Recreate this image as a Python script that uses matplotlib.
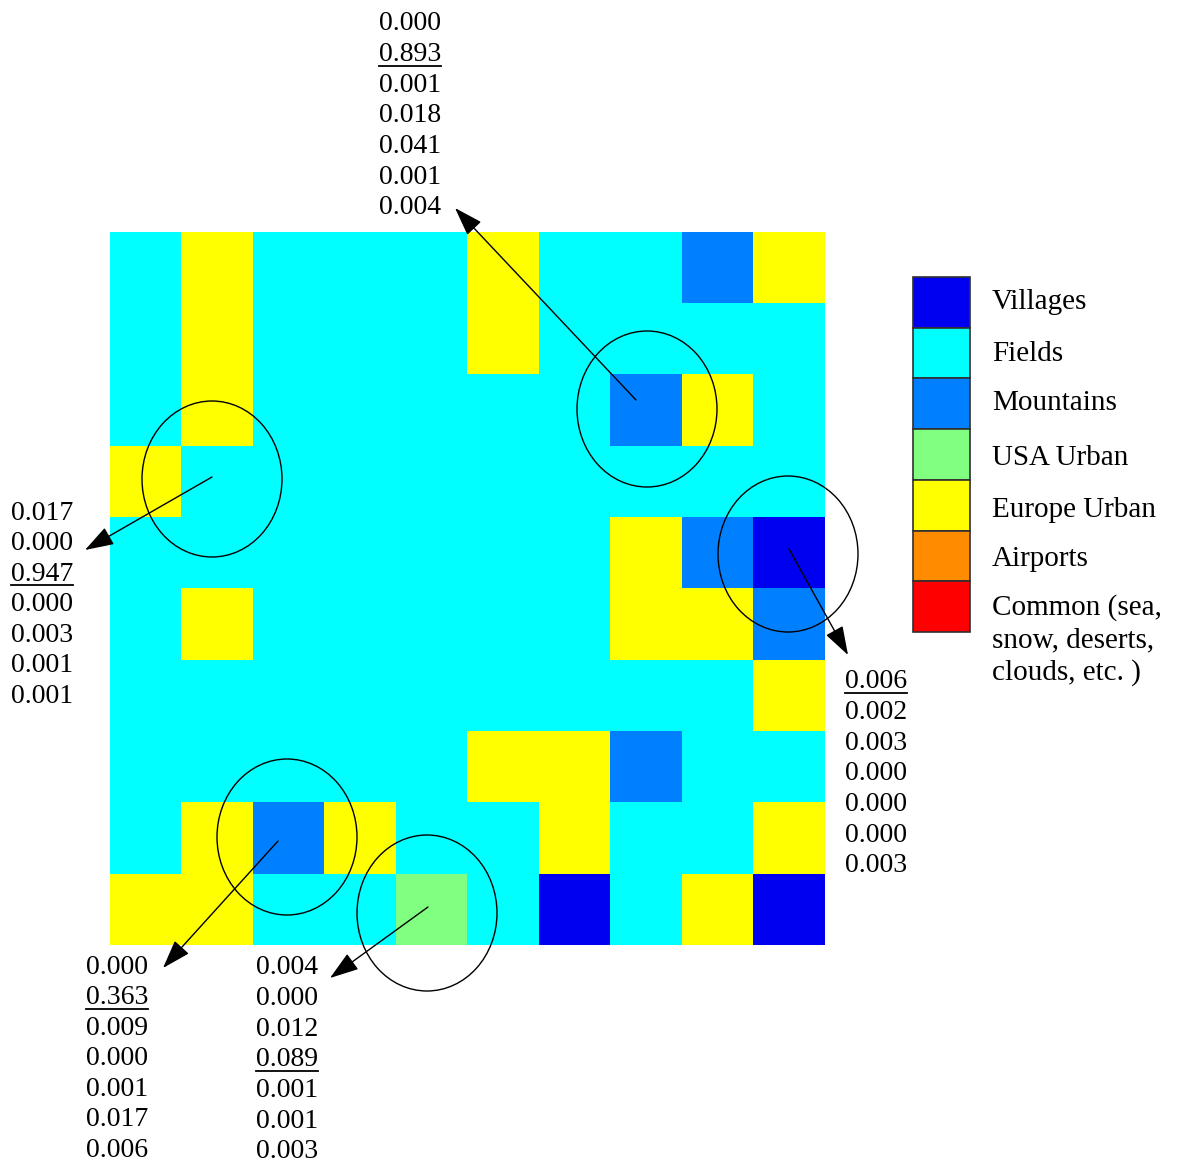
import numpy as np
import matplotlib
matplotlib.use('Agg')
import matplotlib.pyplot as plt
from matplotlib.colors import ListedColormap
from matplotlib.patches import Ellipse, Rectangle

# Land-cover classes and their colours
categories = ['Villages', 'Fields', 'Mountains', 'USA Urban', 'Europe Urban',
              'Airports', 'Common (sea,\nsnow, deserts,\nclouds, etc. )']
colors = ['#0000f0', '#00ffff', '#0080ff', '#80ff80', '#ffff00', '#ff8c00', '#ff0000']

# Class index of every cell, top row first
grid = [
    [1, 4, 1, 1, 1, 4, 1, 1, 2, 4],
    [1, 4, 1, 1, 1, 4, 1, 1, 1, 1],
    [1, 4, 1, 1, 1, 1, 1, 2, 4, 1],
    [4, 1, 1, 1, 1, 1, 1, 1, 1, 1],
    [1, 1, 1, 1, 1, 1, 1, 4, 2, 0],
    [1, 4, 1, 1, 1, 1, 1, 4, 4, 2],
    [1, 1, 1, 1, 1, 1, 1, 1, 1, 4],
    [1, 1, 1, 1, 1, 4, 4, 2, 1, 1],
    [1, 4, 2, 4, 1, 1, 4, 1, 1, 4],
    [4, 4, 1, 1, 3, 1, 0, 1, 4, 0],
]

# Class probabilities for the circled cells (underlined value = best match)
probs_top = [0.000, 0.893, 0.001, 0.018, 0.041, 0.001, 0.004]
probs_left = [0.017, 0.000, 0.947, 0.000, 0.003, 0.001, 0.001]
probs_right = [0.006, 0.002, 0.003, 0.000, 0.000, 0.000, 0.003]
probs_bottom_left = [0.000, 0.363, 0.009, 0.000, 0.001, 0.017, 0.006]
probs_bottom_mid = [0.004, 0.000, 0.012, 0.089, 0.001, 0.001, 0.003]

fig = plt.figure(figsize=(11.84, 11.64), dpi=100)
ax = fig.add_axes([0, 0, 1, 1])
ax.set_xlim(0, 1184)
ax.set_ylim(1164, 0)
ax.axis('off')

serif = 'Liberation Serif'

# the class map
ax.imshow(np.array(grid), cmap=ListedColormap(colors), vmin=-0.5, vmax=len(colors) - 0.5,
          interpolation='nearest', extent=(110, 825, 945, 232), aspect='auto', zorder=1)

# legend boxes
box_h = (632 - 277) / len(categories)
label_y = [302, 354, 403, 458, 510, 559, 640]
for i, (cat, col) in enumerate(zip(categories, colors)):
    ax.add_patch(Rectangle((913, 277 + i * box_h), 57, box_h, facecolor=col,
                           edgecolor='#303030', lw=1.2, zorder=2))
    ax.text(992, label_y[i], cat, family=serif, fontsize=21, va='center',
            ha='left', linespacing=1.3)

# circles, arrows and probability columns
groups = [
    # circle centre, arrow start, arrow end, text x, first text y, values
    ((647, 409), (636, 400), (455, 208), 379, 24, probs_top),
    ((212, 479), (212, 477), (85, 550), 11, 513, probs_left),
    ((788, 554), (789, 549), (848, 655), 845, 682, probs_right),
    ((287, 837), (278, 841), (163, 968), 86, 967, probs_bottom_left),
    ((427, 913), (428, 907), (330, 978), 256, 968, probs_bottom_mid),
]
renderer = fig.canvas.get_renderer()
inv = ax.transData.inverted()
for centre, start, end, tx, ty, vals in groups:
    ax.add_patch(Ellipse(centre, 140, 156, fill=False, edgecolor='black', lw=1.0, zorder=3))
    ax.annotate('', xy=end, xytext=start,
                arrowprops=dict(arrowstyle='-|>,head_length=1.2,head_width=0.4',
                                color='black', lw=1.0, shrinkA=0, shrinkB=0,
                                mutation_scale=15), zorder=4)
    best = int(np.argmax(vals))
    for k, v in enumerate(vals):
        t = ax.text(tx, ty + k * 30.6, f'{v:.3f}', family=serif, fontsize=20,
                    ha='left', va='center')
        if k == best:
            bb = t.get_window_extent(renderer)
            (x0, _), (x1, _) = inv.transform([(bb.x0, bb.y0), (bb.x1, bb.y0)])
            ax.plot([x0, x1], [ty + k * 30.6 + 11, ty + k * 30.6 + 11], color='black', lw=1.3)

fig.savefig('out.png', dpi=100, facecolor='white')
